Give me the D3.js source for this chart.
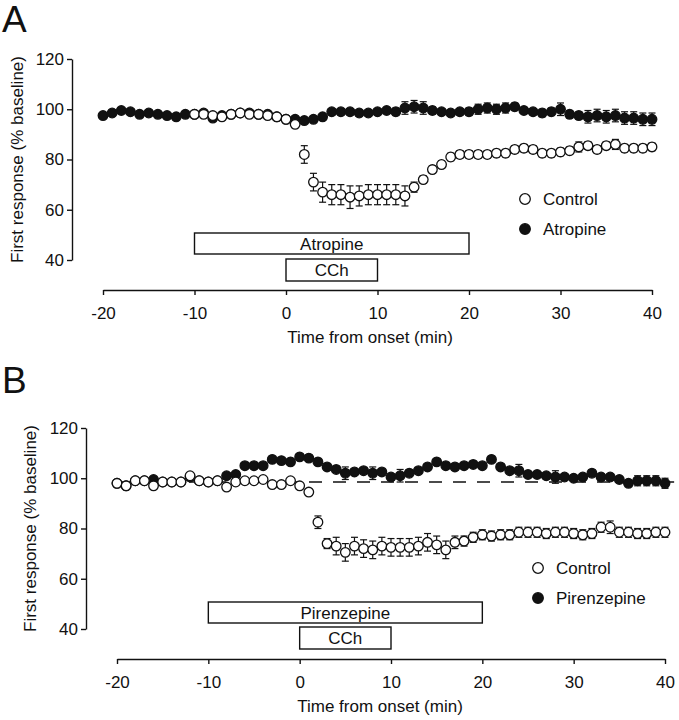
<!DOCTYPE html>
<html><head><meta charset="utf-8">
<script src="https://cdn.jsdelivr.net/npm/d3@7"></script>
<style>
body{margin:0;background:#fff}
svg{display:block}
text{font-family:"Liberation Sans",Arial,Helvetica,sans-serif;fill:#111}
</style>
</head><body>
<svg id="c" width="679" height="720"></svg>
<script>
// ---------------- DATA ----------------
const xTicks = [-20, -10, 0, 10, 20, 30, 40];
const yTicks = [40, 60, 80, 100, 120];
const xTitle = "Time from onset (min)";
const yTitle = "First response (% baseline)";

// Panel A
const timeA_atropine = [-20,-19,-18,-17,-16,-15,-14,-13,-12,-11,-10,-9,-8,-7,-6,-5,-4,-3,-2,-1,0,1,2,3,4,5,6,7,8,9,10,11,12,13,14,15,16,17,18,19,20,21,22,23,24,25,26,27,28,29,30,31,32,33,34,35,36,37,38,39,40];
const atropineA = [97.5,98.5,99.5,99,98,98.5,98,97.5,97,98,98,98.5,96.5,97.5,98,98.5,98.5,98,98,97,96,96,95.5,96,97,99,99,99,98.5,98.5,99,99.5,99,100.5,101,100.5,99.5,99,98.5,99,99,100,100.5,100,100.5,101,99.5,99,98.5,99,100,98,97.5,97,97.5,97,97.5,96.5,96.5,96,96];
const atropineA_err = [1,1,1,1,1,1,1,1,1,1,1,1,1,1,1,1,1,1,1,1,1.2,1.2,1.2,1.2,1.2,1.2,1.2,1.2,1.2,1.2,1.2,1.2,1.5,2.5,2.5,2.5,1.5,1.2,1.2,1.2,1.5,2,2,2,2,1.5,1.2,1.2,1.5,1.5,2.5,1.5,1.5,2.5,2.5,2.5,2.5,2.5,2.5,2.5,2.5];
const timeA_control = [-10,-9,-8,-7,-6,-5,-4,-3,-2,-1,0,1,2,3,4,5,6,7,8,9,10,11,12,13,14,15,16,17,18,19,20,21,22,23,24,25,26,27,28,29,30,31,32,33,34,35,36,37,38,39,40];
const controlA = [98,98,97.5,97,98,98.5,98,98,97.5,97,96,94,82,71,67,66,66,65,65.5,66,66,66,66,65.5,69,72,76,78,81,82,82,82,82,82.5,82.5,84,84.5,84,82.5,82.5,83,83.5,85,85.5,84,85.5,86,84.5,84.5,84.5,85];
const controlA_err = [1,1,1,1,1,1,1,1,1,1,1,1,3.5,3.5,4,4,4,4.5,4,4,4,4,4,4,2,1.5,1.5,1.5,1.5,1.5,1.5,1.5,1.5,1.5,1.5,1.5,1.5,1.5,1.5,1.5,1.5,1.5,2,1.5,1.5,1.5,2,1.5,1.5,1.5,1.5];
const treatmentsA = [{label:"Atropine", start:-10, end:20}, {label:"CCh", start:0, end:10}];
const legendA = ["Control", "Atropine"];

// Panel B
const timeB = [-20,-19,-18,-17,-16,-15,-14,-13,-12,-11,-10,-9,-8,-7,-6,-5,-4,-3,-2,-1,0,1,2,3,4,5,6,7,8,9,10,11,12,13,14,15,16,17,18,19,20,21,22,23,24,25,26,27,28,29,30,31,32,33,34,35,36,37,38,39,40];
const pirenzepineB = [98,97,99,99,99.5,98.5,98.5,98.5,100.5,99,98.5,99,101,101.5,105,105,105,107.5,107,106.5,108.5,108,106.5,104.5,103.5,102,102.5,103,102,102.5,100.5,101,102,103,104.5,106.5,105,104.5,105,105.5,105,107.5,104.5,103,103,101.5,101.5,101,100.5,100.5,100,100.5,102,100.5,100.5,99.5,98,99,99,99,98];
const pirenzepineB_err = [1,1,1,1,1,1,1,1,1,1,1,1,1,1,1.2,1.2,1.2,1.2,1.2,1.2,1.2,1.2,1.2,1.2,1.2,2.5,1.2,1.2,2.5,1.2,1.2,2.5,1.2,1.2,1.2,1.2,1.2,1.2,1.2,1.2,1.2,1.2,1.2,1.2,2.5,1.2,1.2,1.2,2.5,1.2,1.2,1.2,1.2,1.2,1.2,1.2,1.2,2,2,2,2];
const controlB = [98,97,99,99,97,98.5,98.5,98.5,101,99,98.5,99,96.5,98.5,99,99,99.5,97.5,97.5,99,97,94.5,82.5,74,73,70.5,73,72,71.5,73,72.5,72.5,72.5,73,74.5,73.5,71.5,74.5,75,76.5,77.5,77,77.5,77.5,78.5,78.5,78.5,78,78.5,78.5,78,77.5,78,80.5,80.5,78.5,78.5,78,78,78.5,78.5];
const controlB_err = [1,1,1,1,1,1,1,1,1,1,1,1,1,1,1,1,1,1,1,1,1,1,2.5,2,3.5,3.5,3.5,3.5,3.5,3.5,3.5,3.5,3.5,3.5,3.5,3.5,3.5,2.5,2,2,2,2,2,2,2,2,2,2,2,2,2,2,2,2,2.5,2,2,2,2,2,2];
const baselineB = 98.5;
const baselineB_range = [-20, 41];
const treatmentsB = [{label:"Pirenzepine", start:-10, end:20}, {label:"CCh", start:0, end:10}];
const legendB = ["Control", "Pirenzepine"];

// ---------------- DRAWING ----------------
const svg = d3.select("#c");
const INK = "#111";

function drawPanel(p) {
  const g = svg.append("g");
  const x = d3.scaleLinear().domain([-20, 40]).range([p.x0, p.x1]);
  const y = d3.scaleLinear().domain([40, 120]).range([p.yb, p.yt]);

  g.append("text").attr("x", 2).attr("y", p.letterY).attr("font-size", 37).text(p.letter);

  const ya = g.append("g").attr("transform", `translate(${p.ax},0)`)
    .call(d3.axisLeft(y).tickValues(yTicks).tickSize(5).tickSizeOuter(0).tickPadding(3).tickFormat(d => String(d)));
  const xa = g.append("g").attr("transform", `translate(0,${p.xy})`)
    .call(d3.axisBottom(x).tickValues(xTicks).tickSize(5).tickSizeOuter(0).tickPadding(12).tickFormat(d => String(d)));
  [ya, xa].forEach(a => {
    a.selectAll("path,line").attr("stroke", INK).attr("stroke-width", 1.4);
    a.selectAll("text").attr("font-size", 17).attr("fill", INK)
      .style("font-family", '"Liberation Sans",Arial,sans-serif');
  });

  g.append("text").attr("x", p.xtX).attr("y", p.xtY).attr("text-anchor", "middle")
    .attr("font-size", 17).text(xTitle);
  g.append("text").attr("transform", `translate(${p.ytX},${(p.yb + p.yt) / 2}) rotate(-90)`)
    .attr("text-anchor", "middle").attr("dy", "0.35em").attr("font-size", 17).text(yTitle);

  p.treatments.forEach((t, i) => {
    const [y0, y1] = p.boxRows[i];
    g.append("rect").attr("x", x(t.start)).attr("y", y0)
      .attr("width", x(t.end) - x(t.start)).attr("height", y1 - y0)
      .attr("fill", "#fff").attr("stroke", INK).attr("stroke-width", 1.4);
    g.append("text").attr("x", (x(t.start) + x(t.end)) / 2).attr("y", (y0 + y1) / 2)
      .attr("dy", "0.36em").attr("text-anchor", "middle").attr("font-size", 17).text(t.label);
  });

  if (p.baseline !== undefined) {
    g.append("line").attr("x1", x(p.baselineRange[0])).attr("x2", x(p.baselineRange[1]))
      .attr("y1", y(p.baseline)).attr("y2", y(p.baseline))
      .attr("stroke", INK).attr("stroke-width", 1.4).attr("stroke-dasharray", "13,11");
  }

  const R = 4.8;
  p.series.forEach(s => {
    const pts = s.t.map((t, i) => ({t, v: s.v[i], e: s.e[i]}));
    const eg = g.append("g").attr("stroke", INK).attr("stroke-width", 1.2);
    pts.forEach(d => {
      const cx = x(d.t);
      eg.append("line").attr("x1", cx).attr("x2", cx).attr("y1", y(d.v - d.e)).attr("y2", y(d.v + d.e));
      eg.append("line").attr("x1", cx - 3.5).attr("x2", cx + 3.5).attr("y1", y(d.v - d.e)).attr("y2", y(d.v - d.e));
      eg.append("line").attr("x1", cx - 3.5).attr("x2", cx + 3.5).attr("y1", y(d.v + d.e)).attr("y2", y(d.v + d.e));
    });
    g.append("g").selectAll("circle").data(pts).join("circle")
      .attr("cx", d => x(d.t)).attr("cy", d => y(d.v)).attr("r", R)
      .attr("fill", s.filled ? INK : "#fff").attr("stroke", INK).attr("stroke-width", 1.3);
  });

  p.legend.forEach((lab, i) => {
    const ly = p.legY[i];
    g.append("circle").attr("cx", p.legX).attr("cy", ly).attr("r", 5.3)
      .attr("fill", i === 1 ? INK : "#fff").attr("stroke", INK).attr("stroke-width", 1.3);
    g.append("text").attr("x", p.legX + 18).attr("y", ly).attr("dy", "0.36em")
      .attr("font-size", 17).text(lab);
  });
}

drawPanel({
  letter: "A", letterY: 32,
  x0: 103, x1: 652, yb: 260, yt: 59, ax: 72, xy: 290,
  xtX: 370, xtY: 343, ytX: 17,
  treatments: treatmentsA, boxRows: [[233, 254], [259, 281]],
  series: [
    {t: timeA_atropine, v: atropineA, e: atropineA_err, filled: true},
    {t: timeA_control, v: controlA, e: controlA_err, filled: false}
  ],
  legend: legendA, legX: 525, legY: [199, 229]
});

drawPanel({
  letter: "B", letterY: 393,
  x0: 117, x1: 665, yb: 629, yt: 428, ax: 86, xy: 659,
  xtX: 380, xtY: 712, ytX: 30,
  treatments: treatmentsB, boxRows: [[602, 623], [627, 649]],
  baseline: baselineB, baselineRange: baselineB_range,
  series: [
    {t: timeB, v: pirenzepineB, e: pirenzepineB_err, filled: true},
    {t: timeB, v: controlB, e: controlB_err, filled: false}
  ],
  legend: legendB, legX: 538, legY: [568, 598]
});
</script>
</body></html>
